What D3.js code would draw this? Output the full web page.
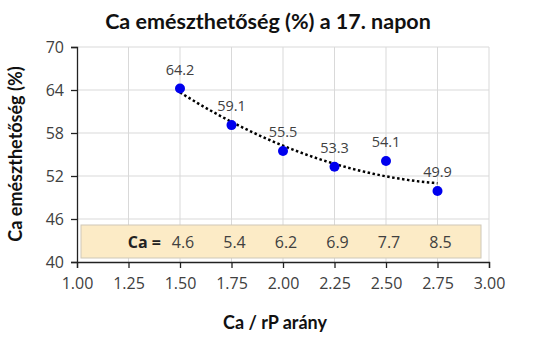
<!DOCTYPE html>
<html><head><meta charset="utf-8">
<script src="https://cdn.jsdelivr.net/npm/d3@7"></script>
<style>body{margin:0;background:#fff}</style>
</head><body>
<svg id="c" width="549" height="340"></svg>
<script>
const ratios = [1.5, 1.75, 2.0, 2.25, 2.5, 2.75];
const digest = [64.2, 59.1, 55.5, 53.3, 54.1, 49.9];
const caValues = ["4.6", "5.4", "6.2", "6.9", "7.7", "8.5"];
const xTicks = [1.0, 1.25, 1.5, 1.75, 2.0, 2.25, 2.5, 2.75, 3.0];
const yTicks = [40, 46, 52, 58, 64, 70];

const svg = d3.select("#c");
const L = 77, R = 489, T = 47, B = 262;
const x = d3.scaleLinear().domain([1, 3]).range([L, R]);
const y = d3.scaleLinear().domain([40, 70]).range([B, T]);
const font = "'Open Sans', 'Noto Sans', sans-serif";
const tfont = "Lato, 'Open Sans', sans-serif";
const tcol = "#404040";

// grid
svg.append("g").selectAll("line").data(xTicks.slice(1)).join("line")
  .attr("x1", d => x(d)).attr("x2", d => x(d)).attr("y1", T).attr("y2", B)
  .attr("stroke", "#d9d9d9").attr("stroke-width", 1);
svg.append("g").selectAll("line").data(yTicks.slice(1)).join("line")
  .attr("x1", L).attr("x2", R).attr("y1", d => y(d)).attr("y2", d => y(d))
  .attr("stroke", "#d9d9d9").attr("stroke-width", 1);

// axes
const xAxis = svg.append("g").attr("transform", `translate(0,${B})`)
  .call(d3.axisBottom(x).tickValues(xTicks).tickFormat(d3.format(".2f")).tickSizeOuter(0).tickSize(6));
const yAxis = svg.append("g").attr("transform", `translate(${L},0)`)
  .call(d3.axisLeft(y).tickValues(yTicks).tickSizeOuter(0).tickSize(6));
[xAxis, yAxis].forEach(a => {
  a.select(".domain").attr("stroke", "#222").attr("stroke-width", 1.3);
  a.selectAll(".tick line").attr("stroke", "#222").attr("stroke-width", 1.3);
  a.selectAll("text").attr("font-family", font).attr("font-size", 16).attr("fill", tcol);
});
xAxis.selectAll("text").attr("dy", "1.1em");
yAxis.selectAll("text").attr("dx", "-0.25em");

// Ca box
svg.append("rect").attr("x", 81).attr("y", 225).attr("width", 400).attr("height", 33)
  .attr("fill", "#fcebc6").attr("stroke", "#cfc8b8").attr("stroke-width", 1);
svg.append("text").attr("x", x(1.5) - 19).attr("y", 247.5).attr("text-anchor", "end")
  .attr("font-family", font).attr("font-size", 16).attr("font-weight", "bold").attr("fill", "#222")
  .text("Ca =");
svg.append("g").selectAll("text").data(caValues).join("text")
  .attr("x", (d, i) => x(ratios[i]) + 3).attr("y", 247.5).attr("text-anchor", "middle")
  .attr("font-family", font).attr("font-size", 16).attr("fill", tcol).text(d => d);

// quadratic trendline (least squares)
const mx = d3.mean(ratios);
const t = ratios.map(v => v - mx);
const mt2 = d3.mean(t, v => v * v);
const u = t.map(v => v * v - mt2);
const my = d3.mean(digest);
const b1 = d3.sum(t.map((v, i) => v * digest[i])) / d3.sum(t, v => v * v);
const b2 = d3.sum(u.map((v, i) => v * digest[i])) / d3.sum(u, v => v * v);
const fit = xv => { const tv = xv - mx; return my + b1 * tv + b2 * (tv * tv - mt2); };
const trend = d3.range(0, 61).map(k => { const xv = 1.5 + k * (1.25 / 60); return [xv, fit(xv)]; });
svg.append("path").datum(trend)
  .attr("d", d3.line().x(d => x(d[0])).y(d => y(d[1])))
  .attr("fill", "none").attr("stroke", "#000").attr("stroke-width", 2.5)
  .attr("stroke-dasharray", "2.5,2.5");

// points
svg.append("g").selectAll("circle").data(ratios).join("circle")
  .attr("cx", d => x(d)).attr("cy", (d, i) => y(digest[i])).attr("r", 5)
  .attr("fill", "#0000ee");
svg.append("g").selectAll("text").data(ratios).join("text")
  .attr("x", d => x(d)).attr("y", (d, i) => y(digest[i]) - 14).attr("text-anchor", "middle")
  .attr("font-family", font).attr("font-size", 14.5).attr("fill", tcol)
  .text((d, i) => digest[i].toFixed(1));

// titles
svg.append("text").attr("x", 268).attr("y", 29).attr("text-anchor", "middle")
  .attr("font-family", tfont).attr("font-size", 21.5).attr("font-weight", "bold").attr("fill", "#111")
  .text("Ca emészthetőség (%) a 17. napon");
svg.append("text").attr("x", 275).attr("y", 329).attr("text-anchor", "middle")
  .attr("font-family", tfont).attr("font-size", 18).attr("font-weight", "bold").attr("fill", "#111")
  .text("Ca / rP arány");
svg.append("text").attr("transform", `translate(22,154) rotate(-90)`).attr("text-anchor", "middle")
  .attr("font-family", tfont).attr("font-size", 18).attr("font-weight", "bold").attr("fill", "#111")
  .text("Ca emészthetőség (%)");
</script>
</body></html>
